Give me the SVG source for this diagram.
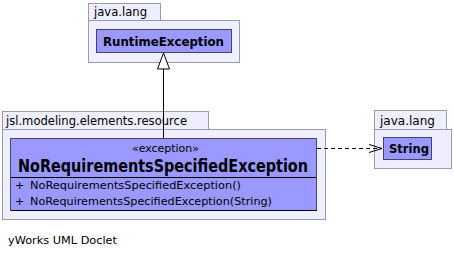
<svg xmlns="http://www.w3.org/2000/svg" width="454" height="257" viewBox="0 0 454 257">
  <defs>
    <style>
      .pkg { fill: #eeeeff; stroke: #9a9aaa; stroke-width: 1; }
      .cls { fill: #9999ff; stroke: #444466; stroke-width: 1; }
      .sep { stroke: #000000; stroke-width: 1; }
      .pkgname { font-family: "DejaVu Sans", sans-serif; font-size: 12px; fill: #000; }
      .clsname { font-family: "DejaVu Sans", sans-serif; font-weight: bold; fill: #000; }
      .small { font-family: "DejaVu Sans", sans-serif; font-size: 11px; fill: #000; }
      .edge { fill: none; stroke: #000; stroke-width: 1; }
    </style>
  </defs>

  <rect x="0" y="0" width="454" height="257" fill="#ffffff"/>

  <!-- package java.lang (top) -->
  <g id="pkg-java-lang-top">
    <rect class="pkg" x="88.5" y="3.5" width="72" height="17"/>
    <rect class="pkg" x="88.5" y="20.5" width="151" height="42"/>
    <text class="pkgname" x="94" y="16" textLength="53" lengthAdjust="spacingAndGlyphs">java.lang</text>
  </g>

  <!-- class RuntimeException -->
  <g id="cls-RuntimeException">
    <rect class="cls" x="96.5" y="29.5" width="135" height="23"/>
    <text class="clsname" x="103" y="46" font-size="13" textLength="121" lengthAdjust="spacingAndGlyphs">RuntimeException</text>
  </g>

  <!-- package jsl.modeling.elements.resource -->
  <g id="pkg-resource">
    <rect class="pkg" x="2.5" y="111.5" width="206" height="18"/>
    <rect class="pkg" x="2.5" y="129.5" width="323" height="90"/>
    <text class="pkgname" x="6" y="125" textLength="181" lengthAdjust="spacingAndGlyphs">jsl.modeling.elements.resource</text>
  </g>

  <!-- class NoRequirementsSpecifiedException -->
  <g id="cls-NoRequirementsSpecifiedException">
    <rect class="cls" x="10.5" y="138.5" width="306" height="72"/>
    <text class="small" x="132" y="152" textLength="67" lengthAdjust="spacingAndGlyphs">«exception»</text>
    <text class="clsname" x="18" y="172" font-size="17" textLength="290" lengthAdjust="spacingAndGlyphs">NoRequirementsSpecifiedException</text>
    <line class="sep" x1="11" y1="177.5" x2="316" y2="177.5"/>
    <text class="small" x="15" y="189">+</text>
    <text class="small" x="30" y="189" textLength="211" lengthAdjust="spacingAndGlyphs">NoRequirementsSpecifiedException()</text>
    <text class="small" x="15" y="205">+</text>
    <text class="small" x="30" y="205" textLength="242" lengthAdjust="spacingAndGlyphs">NoRequirementsSpecifiedException(String)</text>
    <line class="sep" x1="11" y1="210.5" x2="317" y2="210.5"/>
  </g>

  <!-- package java.lang (right) -->
  <g id="pkg-java-lang-right">
    <rect class="pkg" x="374.5" y="110.5" width="72" height="19"/>
    <rect class="pkg" x="374.5" y="129.5" width="77" height="39"/>
    <text class="pkgname" x="380" y="125" textLength="55" lengthAdjust="spacingAndGlyphs">java.lang</text>
  </g>

  <!-- class String -->
  <g id="cls-String">
    <rect class="cls" x="383.5" y="137.5" width="48" height="22"/>
    <text class="clsname" x="389" y="153" font-size="13" textLength="40" lengthAdjust="spacingAndGlyphs">String</text>
  </g>

  <!-- connectors: generalization and dependency -->
  <g id="connectors">
    <line class="edge" x1="163.5" y1="138" x2="163.5" y2="69"/>
    <polygon points="163.5,53 157.5,69 169.5,69" fill="#ffffff" stroke="#000" stroke-width="1"/>
    <line class="edge" x1="317" y1="148.5" x2="382" y2="148.5" stroke-dasharray="4,3"/>
    <polyline class="edge" points="369,144.5 382,148.5 369,152.5"/>
  </g>

  <text class="small" x="8" y="244" textLength="109" lengthAdjust="spacingAndGlyphs">yWorks UML Doclet</text>
</svg>
